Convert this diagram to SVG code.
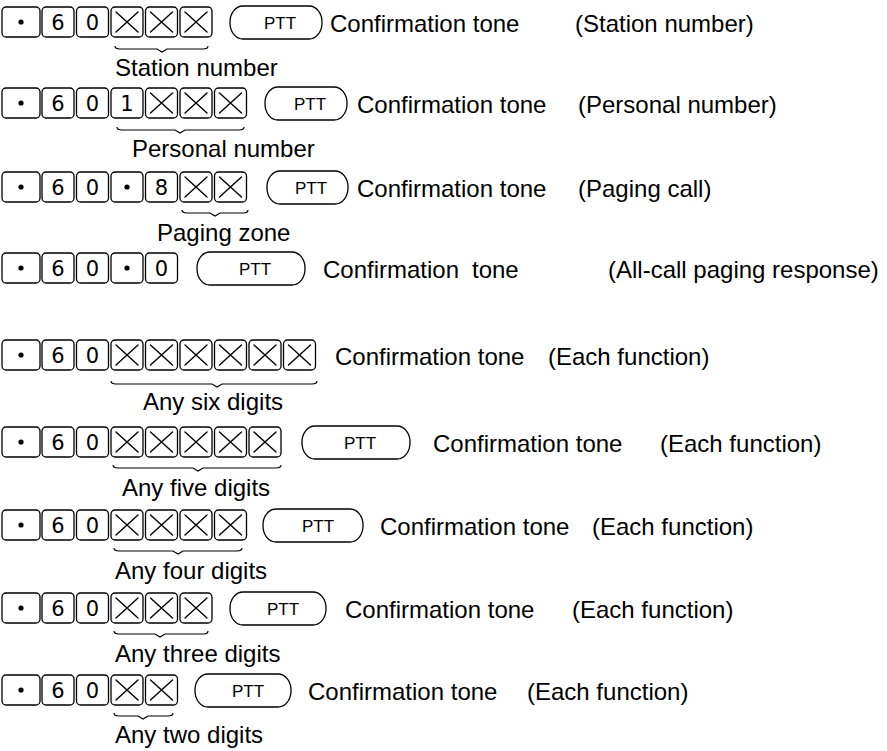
<svg xmlns="http://www.w3.org/2000/svg" xmlns:xlink="http://www.w3.org/1999/xlink" width="887" height="751" viewBox="0 0 887 751">
<style>
.key{fill:#fff;stroke:#000;stroke-width:1.3}
.xs{fill:none;stroke:#000;stroke-width:1.4;stroke-linecap:round}
.pill{fill:#fff;stroke:#000;stroke-width:1.3}
.dg{font-family:"DejaVu Sans","Liberation Sans",sans-serif;font-size:21px;text-anchor:middle;fill:#000}
.ptt{font-family:"Liberation Sans",Arial,sans-serif;font-size:17px;text-anchor:middle;fill:#000}
.t{font-family:"Liberation Sans",Arial,sans-serif;font-size:24px;fill:#000}
.br{fill:none;stroke:#000;stroke-width:1.2}
</style>
<defs>
<g id="kDot"><rect class="key" x="0" y="0" width="38" height="30" rx="4"/><circle cx="19" cy="15" r="2.6"/></g>
<g id="kDot2"><rect class="key" x="0" y="0" width="32" height="30" rx="4"/><circle cx="16" cy="15" r="2.6"/></g>
<g id="kB"><rect class="key" x="0" y="0" width="32" height="30" rx="4"/></g>
<g id="kX"><rect class="key" x="0" y="0" width="32" height="30" rx="4"/><path class="xs" d="M5 5 L27 25 M27 5 L5 25"/></g>
</defs>
<rect width="887" height="751" fill="#fff"/>

<g id="row1">
<use href="#kDot" x="2" y="7"/>
<use href="#kB" x="42" y="7"/><text class="dg" x="58" y="30">6</text>
<use href="#kB" x="76.5" y="7"/><text class="dg" x="92.5" y="30">0</text>
<use href="#kX" x="111" y="7"/><use href="#kX" x="145.5" y="7"/><use href="#kX" x="180" y="7"/>
<rect class="pill" x="230" y="6" width="92" height="33" rx="13" ry="16"/><text class="ptt" x="280" y="29">PTT</text>
<text class="t" x="330" y="32">Confirmation tone</text>
<text class="t" x="575" y="32">(Station number)</text>
<text class="t" x="115" y="76">Station number</text>
</g>

<g id="row2">
<use href="#kDot" x="2" y="88"/>
<use href="#kB" x="42" y="88"/><text class="dg" x="58" y="111">6</text>
<use href="#kB" x="76.5" y="88"/><text class="dg" x="92.5" y="111">0</text>
<use href="#kB" x="111" y="88"/><text class="dg" x="127" y="111">1</text>
<use href="#kX" x="145.5" y="88"/><use href="#kX" x="180" y="88"/><use href="#kX" x="214.5" y="88"/>
<rect class="pill" x="265" y="87" width="82" height="33" rx="13" ry="16"/><text class="ptt" x="310" y="110">PTT</text>
<text class="t" x="357" y="113">Confirmation tone</text>
<text class="t" x="578" y="113">(Personal number)</text>
<text class="t" x="132" y="157">Personal number</text>
</g>

<g id="row3">
<use href="#kDot" x="2" y="172"/>
<use href="#kB" x="42" y="172"/><text class="dg" x="58" y="195">6</text>
<use href="#kB" x="76.5" y="172"/><text class="dg" x="92.5" y="195">0</text>
<use href="#kDot2" x="111" y="172"/>
<use href="#kB" x="145.5" y="172"/><text class="dg" x="161.5" y="195">8</text>
<use href="#kX" x="180" y="172"/><use href="#kX" x="214.5" y="172"/>
<rect class="pill" x="267" y="171" width="81" height="33" rx="13" ry="16"/><text class="ptt" x="311" y="194">PTT</text>
<text class="t" x="357" y="197">Confirmation tone</text>
<text class="t" x="578" y="197">(Paging call)</text>
<text class="t" x="157" y="241">Paging zone</text>
</g>

<g id="row4">
<use href="#kDot" x="2" y="253"/>
<use href="#kB" x="42" y="253"/><text class="dg" x="58" y="276">6</text>
<use href="#kB" x="76.5" y="253"/><text class="dg" x="92.5" y="276">0</text>
<use href="#kDot2" x="111" y="253"/>
<use href="#kB" x="145.5" y="253"/><text class="dg" x="161.5" y="276">0</text>
<rect class="pill" x="197" y="252" width="108" height="33" rx="13" ry="16"/><text class="ptt" x="255" y="275">PTT</text>
<text class="t" x="323" y="278">Confirmation<tspan x="472">tone</tspan></text>
<text class="t" x="608" y="278">(All-call paging response)</text>
</g>

<g id="row5">
<use href="#kDot" x="2" y="340"/>
<use href="#kB" x="42" y="340"/><text class="dg" x="58" y="363">6</text>
<use href="#kB" x="76.5" y="340"/><text class="dg" x="92.5" y="363">0</text>
<use href="#kX" x="111" y="340"/><use href="#kX" x="145.5" y="340"/><use href="#kX" x="180" y="340"/><use href="#kX" x="214.5" y="340"/><use href="#kX" x="249" y="340"/><use href="#kX" x="283.5" y="340"/>
<text class="t" x="335" y="365">Confirmation tone</text>
<text class="t" x="548" y="365">(Each function)</text>
<text class="t" x="143" y="410">Any six digits</text>
</g>

<g id="row6">
<use href="#kDot" x="2" y="427"/>
<use href="#kB" x="42" y="427"/><text class="dg" x="58" y="450">6</text>
<use href="#kB" x="76.5" y="427"/><text class="dg" x="92.5" y="450">0</text>
<use href="#kX" x="111" y="427"/><use href="#kX" x="145.5" y="427"/><use href="#kX" x="180" y="427"/><use href="#kX" x="214.5" y="427"/><use href="#kX" x="249" y="427"/>
<rect class="pill" x="302" y="426" width="108" height="33" rx="13" ry="16"/><text class="ptt" x="360" y="449">PTT</text>
<text class="t" x="433" y="452">Confirmation tone</text>
<text class="t" x="660" y="452">(Each function)</text>
<text class="t" x="122" y="496">Any five digits</text>
</g>

<g id="row7">
<use href="#kDot" x="2" y="510"/>
<use href="#kB" x="42" y="510"/><text class="dg" x="58" y="533">6</text>
<use href="#kB" x="76.5" y="510"/><text class="dg" x="92.5" y="533">0</text>
<use href="#kX" x="111" y="510"/><use href="#kX" x="145.5" y="510"/><use href="#kX" x="180" y="510"/><use href="#kX" x="214.5" y="510"/>
<rect class="pill" x="263" y="509" width="100" height="33" rx="13" ry="16"/><text class="ptt" x="318" y="532">PTT</text>
<text class="t" x="380" y="535">Confirmation tone</text>
<text class="t" x="592" y="535">(Each function)</text>
<text class="t" x="115" y="579">Any four digits</text>
</g>

<g id="row8">
<use href="#kDot" x="2" y="593"/>
<use href="#kB" x="42" y="593"/><text class="dg" x="58" y="616">6</text>
<use href="#kB" x="76.5" y="593"/><text class="dg" x="92.5" y="616">0</text>
<use href="#kX" x="111" y="593"/><use href="#kX" x="145.5" y="593"/><use href="#kX" x="180" y="593"/>
<rect class="pill" x="230" y="592" width="96" height="33" rx="13" ry="16"/><text class="ptt" x="283" y="615">PTT</text>
<text class="t" x="345" y="618">Confirmation tone</text>
<text class="t" x="572" y="618">(Each function)</text>
<text class="t" x="115" y="662">Any three digits</text>
</g>

<g id="row9">
<use href="#kDot" x="2" y="675"/>
<use href="#kB" x="42" y="675"/><text class="dg" x="58" y="698">6</text>
<use href="#kB" x="76.5" y="675"/><text class="dg" x="92.5" y="698">0</text>
<use href="#kX" x="111" y="675"/><use href="#kX" x="145.5" y="675"/>
<rect class="pill" x="195" y="674" width="96" height="33" rx="13" ry="16"/><text class="ptt" x="248" y="697">PTT</text>
<text class="t" x="308" y="700">Confirmation tone</text>
<text class="t" x="527" y="700">(Each function)</text>
<text class="t" x="115" y="743">Any two digits</text>
</g>

<g id="braces">
<path class="br" d="M115 46 Q115 49 120 49 H157 L162 52 L167 49 H203 Q208 49 208 46"/>
<path class="br" d="M117 127 Q117 130 122 130 H175 L180 133 L185 130 H239 Q244 130 244 127"/>
<path class="br" d="M182 210 Q182 213 187 213 H210 L215 216 L220 213 H243 Q248 213 248 210"/>
<path class="br" d="M111 381 Q111 384 116 384 H212 L217 387 L222 384 H312 Q317 384 317 381"/>
<path class="br" d="M113 465 Q113 468 118 468 H193 L198 471 L203 468 H276 Q281 468 281 465"/>
<path class="br" d="M114 548 Q114 551 119 551 H173 L178 554 L183 551 H237 Q242 551 242 548"/>
<path class="br" d="M114 631 Q114 634 119 634 H155 L160 637 L165 634 H203 Q208 634 208 631"/>
<path class="br" d="M114 713 Q114 716 119 716 H138 L143 719 L148 716 H168 Q173 716 173 713"/>
</g>
</svg>
